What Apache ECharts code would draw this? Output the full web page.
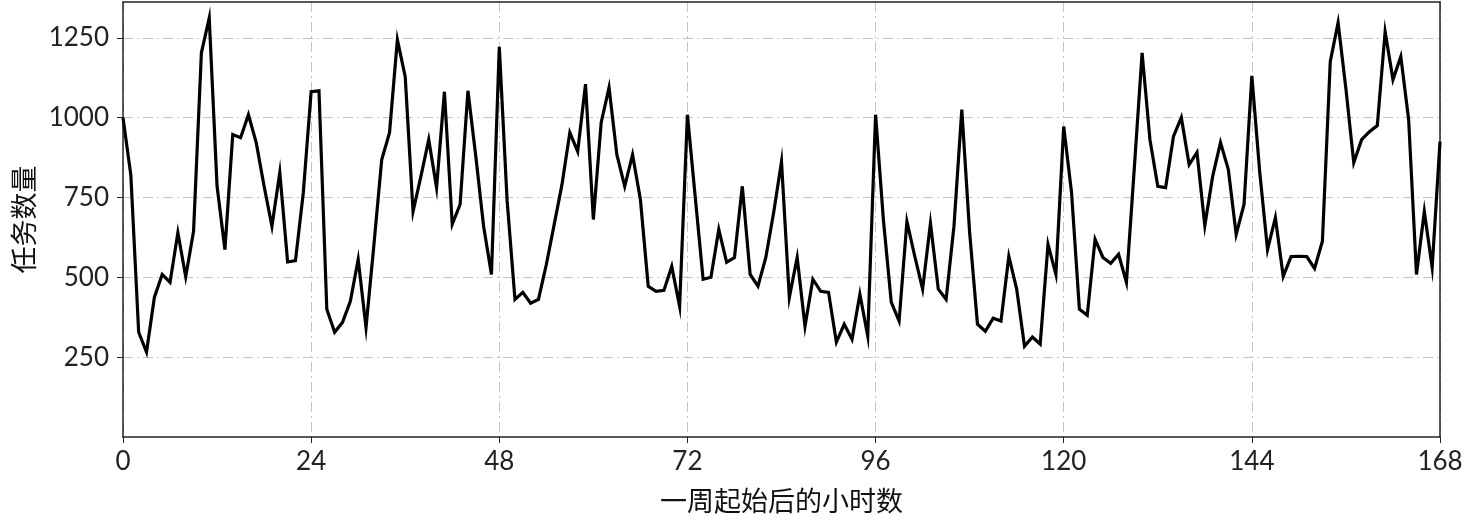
<!DOCTYPE html>
<html>
<head>
<meta charset="utf-8">
<script src="https://cdn.jsdelivr.net/npm/echarts@6/dist/echarts.min.js"></script>
<style>
    html, body { margin: 0; padding: 0; background: #fff; }
    #chart { width: 1470px; height: 522px; }
</style>
</head>
<body>
<div id="chart"></div>
<script>
    // hourly task counts over one week (hour 0 .. 168)
    const hours = Array.from({length: 169}, (_, i) => i);
    const taskCounts = [
        1000, 820, 328, 266, 437, 509, 484, 640, 502, 644,
        1203, 1312, 785, 587, 947, 937, 1009, 921, 785, 660,
        828, 548, 552, 765, 1081, 1084, 400, 328, 359, 425,
        556, 343, 600, 868, 953, 1244, 1128, 706, 816, 931,
        781, 1081, 666, 728, 1084, 880, 660, 509, 1222, 740,
        431, 453, 419, 431, 540, 665, 791, 953, 894, 1105,
        681, 985, 1094, 884, 785, 884, 744, 472, 456, 459,
        534, 409, 1009, 750, 494, 500, 650, 547, 562, 785,
        509, 472, 562, 703, 862, 437, 562, 347, 494, 456,
        453, 297, 353, 306, 447, 316, 1009, 680, 422, 363,
        675, 566, 463, 669, 463, 431, 660, 1025, 640, 353,
        331, 372, 363, 566, 463, 284, 313, 291, 603, 509,
        972, 765, 400, 381, 619, 562, 544, 572, 484, 840,
        1203, 931, 785, 781, 941, 1000, 853, 891, 662, 816,
        922, 837, 634, 728, 1131, 830, 587, 687, 503, 565,
        566, 565, 528, 613, 1175, 1297, 1090, 859, 931, 956,
        975, 1269, 1119, 1191, 994, 509, 706, 531, 925
    ];
    const xTicks = [0, 24, 48, 72, 96, 120, 144, 168];
    const yTicks = [250, 500, 750, 1000, 1250];

    const fontNum = "'Century Gothic', Lato, 'Noto Sans CJK SC', sans-serif";
    const fontCjk = "'Noto Sans CJK SC', sans-serif";
    const gridDash = {color: '#c4c4c4', width: 1, type: [10, 4, 2, 4]};
    const frame = {show: true, onZero: false, lineStyle: {color: '#222', width: 1.5}};

    let myChart = echarts.init(document.getElementById('chart'), null, {renderer: 'canvas'});
    myChart.setOption({
        animation: false,
        backgroundColor: '#fff',
        grid: {
            left: 123,
            right: 30,
            top: 2,
            bottom: 85
        },
        xAxis: [
            {
                type: 'value',
                min: 0,
                max: 168,
                interval: 24,
                name: '一周起始后的小时数',
                nameLocation: 'middle',
                nameGap: 50,
                nameTextStyle: {fontFamily: fontCjk, fontSize: 27, color: '#111'},
                axisLine: frame,
                axisTick: {show: true, inside: false, length: 6, lineStyle: {color: '#222'}},
                axisLabel: {
                    fontFamily: fontNum, fontSize: 26, color: '#222', margin: 12,
                    customValues: xTicks,
                    formatter: v => String(v)
                },
                splitLine: {show: true, lineStyle: gridDash}
            },
            {
                type: 'value',
                position: 'top',
                min: 0,
                max: 168,
                axisLine: frame,
                axisTick: {show: false},
                axisLabel: {show: false},
                splitLine: {show: false}
            }
        ],
        yAxis: [
            {
                type: 'value',
                min: 0,
                max: 1362,
                interval: 250,
                name: '任务数量',
                nameLocation: 'middle',
                nameRotate: 90,
                nameGap: 86,
                nameTextStyle: {fontFamily: fontCjk, fontSize: 27, color: '#111'},
                axisLine: frame,
                axisTick: {show: true, inside: false, length: 6, lineStyle: {color: '#222'}, customValues: yTicks},
                axisLabel: {
                    fontFamily: fontNum, fontSize: 26, color: '#222', margin: 14,
                    customValues: yTicks,
                    formatter: v => String(v)
                },
                splitLine: {show: true, lineStyle: gridDash}
            },
            {
                type: 'value',
                position: 'right',
                min: 0,
                max: 1362,
                axisLine: frame,
                axisTick: {show: false},
                axisLabel: {show: false},
                splitLine: {show: false}
            }
        ],
        series: [
            {
                name: '任务数量',
                type: 'line',
                data: hours.map((h, i) => [h, taskCounts[i]]),
                showSymbol: false,
                symbol: 'none',
                lineStyle: {color: '#000', width: 3.2, join: 'miter'},
                z: 10
            }
        ]
    })
</script>
</body>
</html>
